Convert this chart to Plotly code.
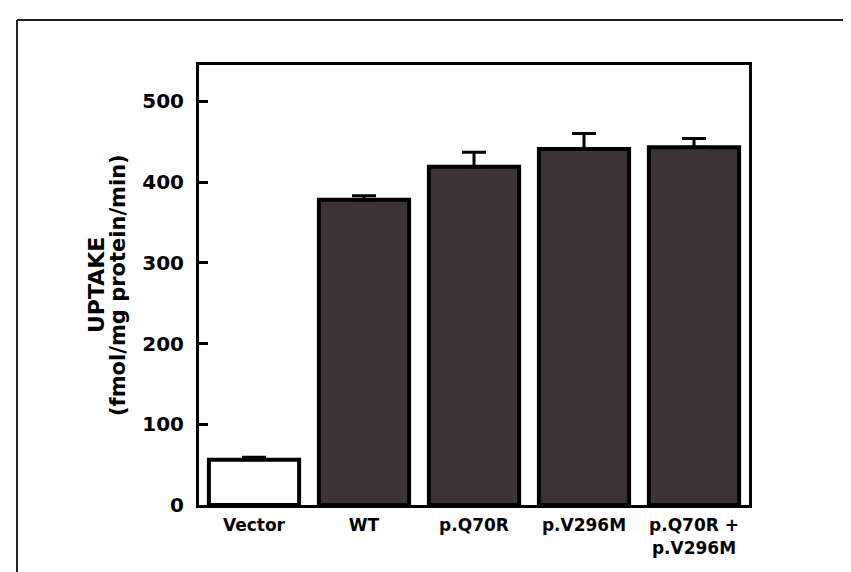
import plotly.graph_objects as go

categories = ["Vector", "WT", "p.Q70R", "p.V296M", "p.Q70R +<br>p.V296M"]
uptake = [56, 378, 419, 441, 443]
sem = [3, 5, 18, 19, 11]
bar_colors = ["#ffffff", "#3c3434", "#3c3434", "#3c3434", "#3c3434"]
y_ticks = [0, 100, 200, 300, 400, 500]

W, H = 851, 572
L, R, T, B = 191, 110, 57, 75
pw, ph = W - L - R, H - T - B

def px(x):
    return (x - L) / pw

def py(y):
    return (H - B - y) / ph

fig = go.Figure()
fig.add_trace(go.Bar(
    x=list(range(len(categories))),
    y=uptake,
    width=0.82,
    marker=dict(color=bar_colors, line=dict(color="#000000", width=4)),
    error_y=dict(type="data", array=sem, arrayminus=[0] * len(sem), symmetric=False,
                 color="#000000", thickness=3, width=12),
))

fig.update_layout(
    width=W, height=H,
    margin=dict(l=L, r=R, t=T, b=B),
    paper_bgcolor="#ffffff", plot_bgcolor="#ffffff",
    showlegend=False,
    xaxis=dict(
        range=[-0.5, 4.5],
        tickmode="array",
        tickvals=list(range(len(categories))),
        ticktext=categories,
        showline=True, linecolor="#000000", linewidth=3, mirror=True,
        showgrid=False, zeroline=False, ticks="",
        tickfont=dict(family="DejaVu Sans", size=17, color="#000000", weight="bold"),
        ticklabelstandoff=3,
    ),
    yaxis=dict(
        range=[0, 545],
        tickmode="array",
        tickvals=y_ticks,
        showline=True, linecolor="#000000", linewidth=3, mirror=True,
        showgrid=False, zeroline=False,
        ticks="inside", ticklen=9, tickwidth=3, tickcolor="#000000",
        tickfont=dict(family="DejaVu Sans", size=20, color="#000000", weight="bold"),
        ticklabelstandoff=8,
    ),
    annotations=[
        dict(text="UPTAKE", xref="paper", yref="paper", x=px(88), y=0.5,
             xanchor="center", yanchor="middle", textangle=-90, showarrow=False,
             font=dict(family="DejaVu Sans", size=22, color="#000000", weight="bold")),
        dict(text="(fmol/mg protein/min)", xref="paper", yref="paper", x=px(110), y=0.5,
             xanchor="center", yanchor="middle", textangle=-90, showarrow=False,
             font=dict(family="DejaVu Sans", size=21, color="#000000", weight="bold")),
    ],
    shapes=[
        dict(type="line", xref="paper", yref="paper", x0=px(9), x1=px(851), y0=py(12), y1=py(12),
             line=dict(color="#222222", width=2)),
        dict(type="line", xref="paper", yref="paper", x0=px(9), x1=px(9), y0=py(12), y1=py(572),
             line=dict(color="#222222", width=2)),
    ],
)

fig.write_html("out.html")
